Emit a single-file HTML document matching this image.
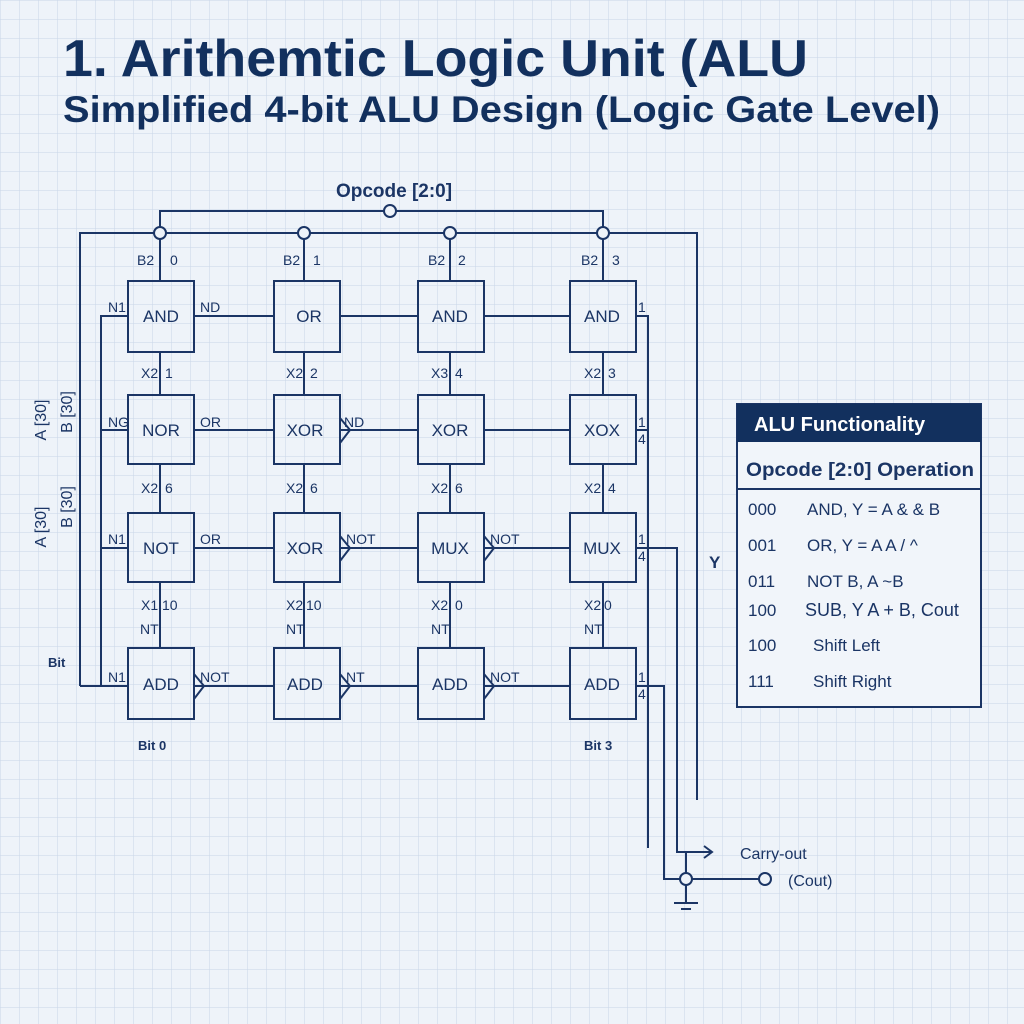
<!DOCTYPE html>
<html><head><meta charset="utf-8"><style>
html,body{margin:0;padding:0;background:#eef3f9}
svg{display:block}
text{font-family:"Liberation Sans",sans-serif;fill:#1b3565}
</style></head><body>
<svg width="1024" height="1024" viewBox="0 0 1024 1024" xmlns="http://www.w3.org/2000/svg">
<defs>
<pattern id="g" width="19" height="19" patternUnits="userSpaceOnUse" x="1" y="1">
<path d="M19 0V19H0" fill="none" stroke="#c8d6e7" stroke-width="1"/>
</pattern>
</defs>
<rect width="1024" height="1024" fill="#eef3f9"/>
<rect width="1024" height="1024" fill="url(#g)"/>

<text x="63" y="76" font-size="52" font-weight="bold" textLength="745" lengthAdjust="spacingAndGlyphs" style="fill:#12305e">1. Arithemtic Logic Unit (ALU</text>
<text x="63" y="122" font-size="37" font-weight="bold" textLength="877" lengthAdjust="spacingAndGlyphs" style="fill:#12305e">Simplified 4-bit ALU Design (Logic Gate Level)</text>

<text x="394" y="197" font-size="19" font-weight="bold" text-anchor="middle">Opcode [2:0]</text>

<g stroke="#1b3565" stroke-width="2" fill="none">
<path d="M160 233V211H603V233"/>
<path d="M80 686V233H697V800"/>
<path d="M160 233V281M304 233V281M450 233V281M603 233V281"/>
<path d="M160 352V395M304 352V395M450 352V395M603 352V395"/>
<path d="M160 464V513M304 464V513M450 464V513M603 464V513"/>
<path d="M160 582V648M304 582V648M450 582V648M603 582V648"/>
<path d="M101 686V316H128M101 430H128M101 548H128M80 686H128"/>
<path d="M194 316H274M340 316H418M484 316H570"/>
<path d="M194 430H274M340 430H418M484 430H570"/>
<path d="M194 548H274M340 548H418M484 548H570"/>
<path d="M194 686H274M340 686H418M484 686H570"/>
<path d="M340 418L350 430L340 443"/>
<path d="M340 536L350 548L340 561"/>
<path d="M484 536L494 548L484 561"/>
<path d="M194 674L204 686L194 699"/>
<path d="M340 674L350 686L340 699"/>
<path d="M484 674L494 686L484 699"/>
<path d="M636 316H648V848"/>
<path d="M636 430H648"/>
<path d="M636 548H677V852H712"/>
<path d="M704 846L712 852L704 858"/>
<path d="M636 686H664V879H759"/>
<path d="M686 852V903M674 903H698M681 909H691"/>
<rect x="128" y="281" width="66" height="71"/><rect x="274" y="281" width="66" height="71"/><rect x="418" y="281" width="66" height="71"/><rect x="570" y="281" width="66" height="71"/>
<rect x="128" y="395" width="66" height="69"/><rect x="274" y="395" width="66" height="69"/><rect x="418" y="395" width="66" height="69"/><rect x="570" y="395" width="66" height="69"/>
<rect x="128" y="513" width="66" height="69"/><rect x="274" y="513" width="66" height="69"/><rect x="418" y="513" width="66" height="69"/><rect x="570" y="513" width="66" height="69"/>
<rect x="128" y="648" width="66" height="71"/><rect x="274" y="648" width="66" height="71"/><rect x="418" y="648" width="66" height="71"/><rect x="570" y="648" width="66" height="71"/>
</g>
<g fill="#eef3f9" stroke="#1b3565" stroke-width="2">
<circle cx="390" cy="211" r="6"/>
<circle cx="160" cy="233" r="6"/><circle cx="304" cy="233" r="6"/><circle cx="450" cy="233" r="6"/><circle cx="603" cy="233" r="6"/>
<circle cx="686" cy="879" r="6"/><circle cx="765" cy="879" r="6"/>
</g>

<g font-size="17" text-anchor="middle">
<text x="161" y="322">AND</text><text x="309" y="322">OR</text><text x="450" y="322">AND</text><text x="602" y="322">AND</text>
<text x="161" y="436">NOR</text><text x="305" y="436">XOR</text><text x="450" y="436">XOR</text><text x="602" y="436">XOX</text>
<text x="161" y="554">NOT</text><text x="305" y="554">XOR</text><text x="450" y="554">MUX</text><text x="602" y="554">MUX</text>
<text x="161" y="690">ADD</text><text x="305" y="690">ADD</text><text x="450" y="690">ADD</text><text x="602" y="690">ADD</text>
</g>
<g font-size="14">
<text x="137" y="265">B2</text><text x="170" y="265">0</text>
<text x="283" y="265">B2</text><text x="313" y="265">1</text>
<text x="428" y="265">B2</text><text x="458" y="265">2</text>
<text x="581" y="265">B2</text><text x="612" y="265">3</text>
<text x="141" y="378">X2</text><text x="165" y="378">1</text>
<text x="286" y="378">X2</text><text x="310" y="378">2</text>
<text x="431" y="378">X3</text><text x="455" y="378">4</text>
<text x="584" y="378">X2</text><text x="608" y="378">3</text>
<text x="141" y="493">X2</text><text x="165" y="493">6</text>
<text x="286" y="493">X2</text><text x="310" y="493">6</text>
<text x="431" y="493">X2</text><text x="455" y="493">6</text>
<text x="584" y="493">X2</text><text x="608" y="493">4</text>
<text x="141" y="610">X1</text><text x="162" y="610">10</text>
<text x="286" y="610">X2</text><text x="306" y="610">10</text>
<text x="431" y="610">X2</text><text x="455" y="610">0</text>
<text x="584" y="610">X2</text><text x="604" y="610">0</text>
<text x="140" y="634">NT</text><text x="286" y="634">NT</text><text x="431" y="634">NT</text><text x="584" y="634">NT</text>
<text x="108" y="312">N1</text><text x="200" y="312">ND</text><text x="638" y="312">1</text>
<text x="108" y="427">NG</text><text x="200" y="427">OR</text><text x="344" y="427">ND</text><text x="638" y="427">1</text><text x="638" y="444">4</text>
<text x="108" y="544">N1</text><text x="200" y="544">OR</text><text x="346" y="544">NOT</text><text x="490" y="544">NOT</text><text x="638" y="544">1</text><text x="638" y="561">4</text>
<text x="108" y="682">N1</text><text x="200" y="682">NOT</text><text x="346" y="682">NT</text><text x="490" y="682">NOT</text><text x="638" y="682">1</text><text x="638" y="699">4</text>
</g>
<g font-size="13" font-weight="bold">
<text x="138" y="750">Bit 0</text><text x="584" y="750">Bit 3</text>
<text x="48" y="667">Bit</text>
</g>
<g font-size="16">
<text transform="translate(46,420) rotate(-90)" text-anchor="middle">A [30]</text>
<text transform="translate(72,412) rotate(-90)" text-anchor="middle">B [30]</text>
<text transform="translate(46,527) rotate(-90)" text-anchor="middle">A [30]</text>
<text transform="translate(72,507) rotate(-90)" text-anchor="middle">B [30]</text>
</g>
<text x="709" y="568" font-size="17" font-weight="bold">Y</text>
<text x="740" y="859" font-size="16">Carry-out</text>
<text x="788" y="886" font-size="16">(Cout)</text>

<rect x="737" y="404" width="244" height="303" fill="#f1f5fa" stroke="#1b3565" stroke-width="2"/>
<rect x="737" y="404" width="244" height="38" fill="#12305e"/>
<text x="754" y="431" font-size="20" font-weight="bold" style="fill:#ffffff">ALU Functionality</text>
<text x="746" y="476" font-size="19" font-weight="bold" textLength="228" lengthAdjust="spacingAndGlyphs">Opcode [2:0] Operation</text>
<line x1="737" y1="489" x2="981" y2="489" stroke="#1b3565" stroke-width="2"/>
<g font-size="17">
<text x="748" y="515">000</text><text x="807" y="515">AND, Y = A &amp; &amp; B</text>
<text x="748" y="551">001</text><text x="807" y="551">OR, Y = A A / ^</text>
<text x="748" y="587">011</text><text x="807" y="587">NOT B, A ~B</text>
<text x="748" y="616">100</text><text x="805" y="616" font-size="18">SUB, Y A + B, Cout</text>
<text x="748" y="651">100</text><text x="813" y="651">Shift Left</text>
<text x="748" y="687">111</text><text x="813" y="687">Shift Right</text>
</g>
</svg>
</body></html>
